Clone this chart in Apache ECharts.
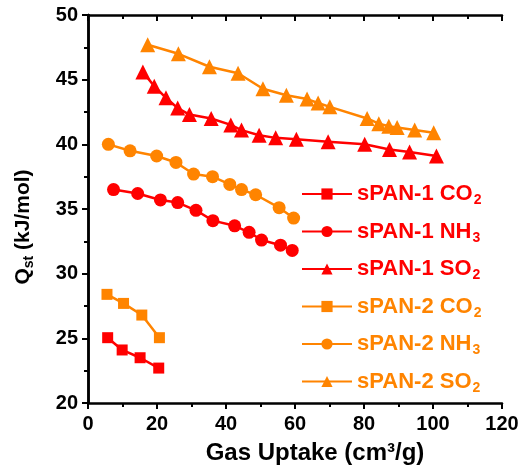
<!DOCTYPE html>
<html>
<head>
<meta charset="utf-8">
<script src="https://cdn.jsdelivr.net/npm/echarts@6/dist/echarts.min.js"></script>
<style>
  html, body { margin: 0; padding: 0; background: #fff; }
  #chart { width: 523px; height: 466px; }
</style>
</head>
<body>
<div id="chart"></div>
<script>
// values
const span1Co2X = [5.7, 9.9, 15.1, 20.5]
const span1Co2Y = [25.05, 24.1, 23.5, 22.7]
const span1Nh3X = [7.4, 14.4, 21.0, 26.0, 31.3, 36.2, 42.5, 46.7, 50.3, 55.8, 59.2]
const span1Nh3Y = [36.5, 36.2, 35.7, 35.5, 34.9, 34.1, 33.7, 33.2, 32.6, 32.2, 31.8]
const span1So2X = [15.9, 19.2, 22.6, 26.0, 29.4, 35.7, 41.4, 44.5, 49.6, 54.4, 60.4, 69.6, 80.2, 87.4, 93.2, 101.0]
const span1So2Y = [45.6, 44.5, 43.6, 42.8, 42.3, 42.0, 41.5, 41.1, 40.7, 40.5, 40.4, 40.2, 40.0, 39.6, 39.4, 39.1]
const span2Co2X = [5.5, 10.3, 15.6, 20.7]
const span2Co2Y = [28.4, 27.7, 26.8, 25.05]
const span2Nh3X = [5.9, 12.2, 19.9, 25.5, 30.6, 36.1, 41.1, 44.5, 48.6, 55.4, 59.6]
const span2Nh3Y = [40.0, 39.5, 39.1, 38.6, 37.7, 37.5, 36.9, 36.5, 36.1, 35.1, 34.3]
const span2So2X = [17.3, 26.2, 35.2, 43.5, 50.7, 57.5, 63.5, 66.7, 70.1, 80.9, 84.3, 87.2, 89.6, 94.7, 100.2]
const span2So2Y = [47.7, 47.0, 46.0, 45.5, 44.3, 43.8, 43.5, 43.2, 42.9, 42.0, 41.6, 41.4, 41.3, 41.1, 40.9]

const xTicks = { min: 0, max: 120, interval: 20 }
const yTicks = { min: 20, max: 50, interval: 5 }

const RED = '#ff0000'
const ORANGE = '#ff8400'
const FONT = '"Liberation Sans", Arial, sans-serif'

const seriesDefs = [
  { name: 'sPAN-1 CO2', x: span1Co2X, y: span1Co2Y, color: RED, symbol: 'rect', size: 11 },
  { name: 'sPAN-1 NH3', x: span1Nh3X, y: span1Nh3Y, color: RED, symbol: 'circle', size: 13 },
  { name: 'sPAN-1 SO2', x: span1So2X, y: span1So2Y, color: RED, symbol: 'triangle', size: 15 },
  { name: 'sPAN-2 CO2', x: span2Co2X, y: span2Co2Y, color: ORANGE, symbol: 'rect', size: 11 },
  { name: 'sPAN-2 NH3', x: span2Nh3X, y: span2Nh3Y, color: ORANGE, symbol: 'circle', size: 13 },
  { name: 'sPAN-2 SO2', x: span2So2X, y: span2So2Y, color: ORANGE, symbol: 'triangle', size: 15 }
]

function zip(xs, ys) {
  return xs.map((x, i) => [x, ys[i]])
}

const chart = echarts.init(document.getElementById('chart'))

const baseAxisLine = { lineStyle: { color: '#000', width: 2.5 } }
const labelStyle = { color: '#000', fontFamily: FONT, fontWeight: 'bold', fontSize: 20 }
const tick = { length: 6, lineStyle: { width: 2, color: '#000' } }
const minor = { show: true, splitNumber: 2, length: 4, lineStyle: { width: 2, color: '#000' } }

function legendRich(color) {
  return {
    main: { color, fontWeight: 'bold', fontSize: 22, fontFamily: FONT, lineHeight: 26 },
    sub: { color, fontWeight: 'bold', fontSize: 14, fontFamily: FONT, verticalAlign: 'bottom', padding: [13, 0, 0, 1] }
  }
}
const redRich = legendRich(RED)
const orangeRich = legendRich(ORANGE)

const option = {
  animation: false,
  textStyle: { fontFamily: FONT },
  grid: { left: 88, right: 21, top: 15, bottom: 63, containLabel: false, outerBoundsMode: 'none' },
  legend: {
    orient: 'vertical',
    left: 296,
    top: 178,
    itemWidth: 50,
    itemHeight: 14,
    itemGap: 13,
    data: seriesDefs.map(s => s.name),
    formatter: name => {
      const k = name.startsWith('sPAN-1') ? 'r' : 'o'
      return `{${k}|${name.slice(0, -1)}}{${k}s|${name.slice(-1)}}`
    },
    textStyle: {
      fontFamily: FONT,
      fontWeight: 'bold',
      fontSize: 22,
      rich: {
        r: redRich.main, rs: redRich.sub,
        o: orangeRich.main, os: orangeRich.sub
      }
    }
  },
  xAxis: [
    {
      type: 'value',
      ...xTicks,
      name: 'Gas Uptake (cm³/g)',
      nameLocation: 'middle',
      nameGap: 38,
      nameTextStyle: { color: '#000', fontFamily: FONT, fontWeight: 'bold', fontSize: 24, padding: [0, 0, 0, 40] },
      axisLine: baseAxisLine,
      axisTick: tick,
      minorTick: minor,
      axisLabel: { ...labelStyle, margin: 11 },
      splitLine: { show: false }
    },
    {
      type: 'value',
      ...xTicks,
      position: 'top',
      axisLine: baseAxisLine,
      axisTick: { ...tick, inside: true },
      minorTick: minor,
      axisLabel: { show: false },
      splitLine: { show: false }
    }
  ],
  yAxis: [
    {
      type: 'value',
      ...yTicks,
      name: '{q|Q}{s|st}{q| (kJ/mol)}',
      nameLocation: 'middle',
      nameRotate: 90,
      nameGap: 52,
      nameTextStyle: {
        color: '#000',
        padding: [0, 36, 0, 0],
        rich: {
          q: { color: '#000', fontFamily: FONT, fontWeight: 'bold', fontSize: 21 },
          s: { color: '#000', fontFamily: FONT, fontWeight: 'bold', fontSize: 14, verticalAlign: 'bottom', padding: [12, 0, 0, 0] }
        }
      },
      axisLine: baseAxisLine,
      axisTick: tick,
      minorTick: minor,
      axisLabel: { ...labelStyle, margin: 10 },
      splitLine: { show: false }
    },
    {
      type: 'value',
      ...yTicks,
      position: 'right',
      axisLine: baseAxisLine,
      axisTick: { ...tick, inside: true },
      minorTick: minor,
      axisLabel: { show: false },
      splitLine: { show: false }
    }
  ],
  series: seriesDefs.map(s => ({
    name: s.name,
    type: 'line',
    xAxisIndex: 0,
    yAxisIndex: 0,
    data: zip(s.x, s.y),
    symbol: s.symbol,
    symbolSize: s.size,
    color: s.color,
    itemStyle: { color: s.color },
    lineStyle: { color: s.color, width: 2.5 }
  }))
}

chart.setOption(option)
</script>
</body>
</html>
